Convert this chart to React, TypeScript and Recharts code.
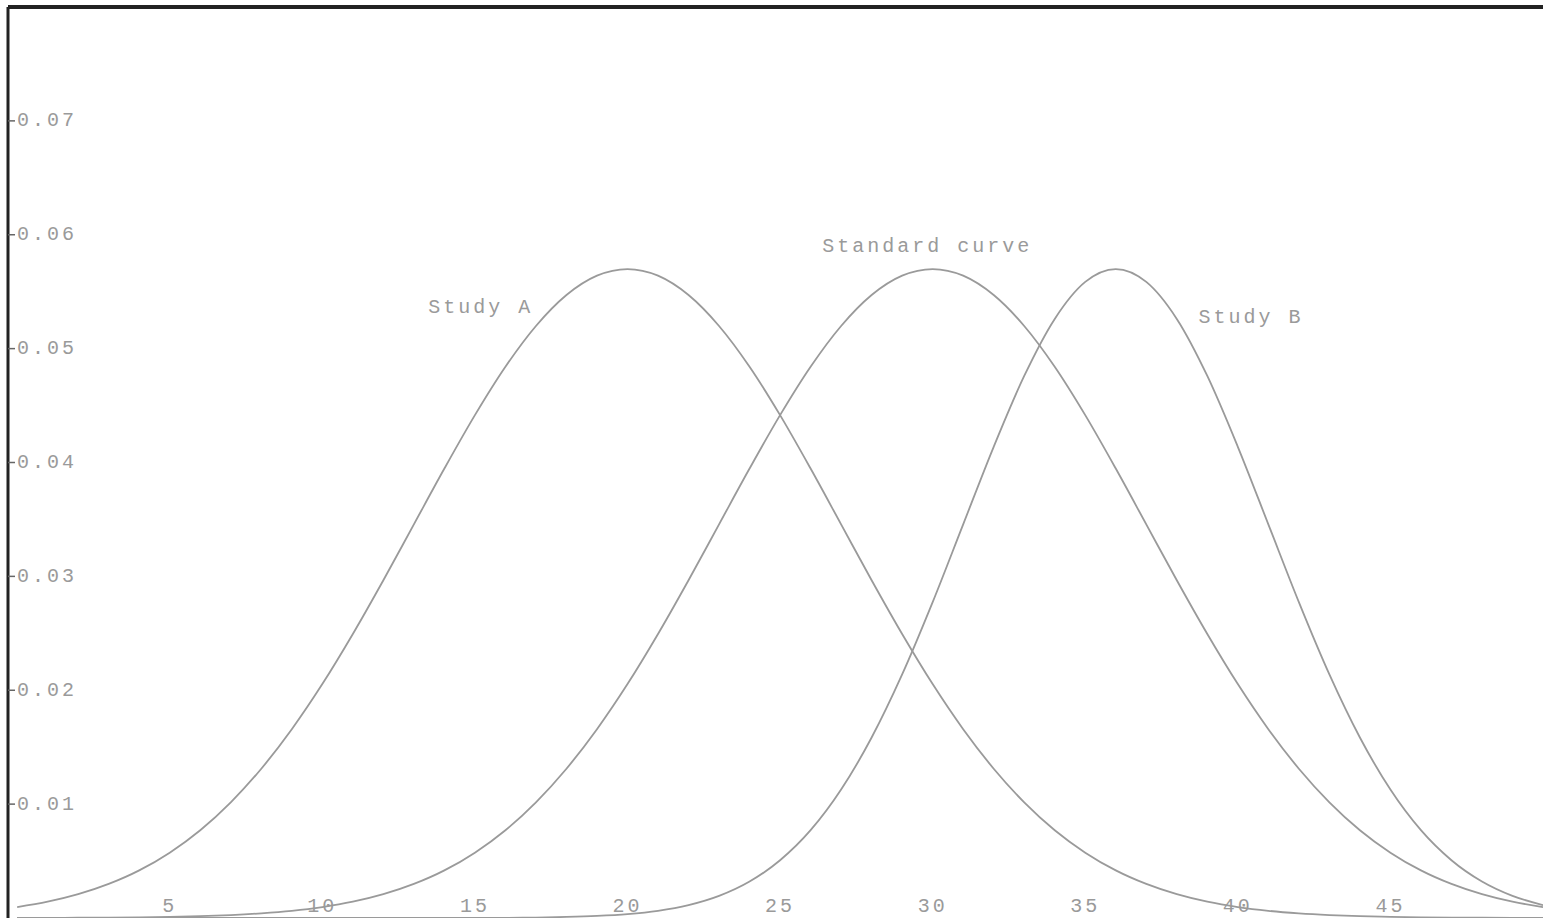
import { LineChart, Line, XAxis, YAxis, ReferenceLine, ReferenceDot } from "recharts";

const xs = [0, 1, 2, 3, 4, 5, 6, 7, 8, 9, 10, 11, 12, 13, 14, 15, 16, 17, 18, 19, 20, 21, 22, 23, 24, 25, 26, 27, 28, 29, 30, 31, 32, 33, 34, 35, 36, 37, 38, 39, 40, 41, 42, 43, 44, 45, 46, 47, 48, 49, 50];

const studyA = [0.00096, 0.00143, 0.00209, 0.00299, 0.00418, 0.00574, 0.00771, 0.01016, 0.01311, 0.01658, 0.02054, 0.02494, 0.02966, 0.03457, 0.03947, 0.04416, 0.04841, 0.05199, 0.05471, 0.05641, 0.05699, 0.05641, 0.05471, 0.05199, 0.04841, 0.04416, 0.03947, 0.03457, 0.02966, 0.02494, 0.02054, 0.01658, 0.01311, 0.01016, 0.00771, 0.00574, 0.00418, 0.00299, 0.00209, 0.00143, 0.00096, 0.00063, 0.00041, 0.00026, 0.00016, 0.0001, 0.00006, 0.00003, 0.00002, 0.00001, 0.00001];

const standard = [0.00001, 0.00001, 0.00002, 0.00003, 0.00006, 0.0001, 0.00016, 0.00026, 0.00041, 0.00063, 0.00096, 0.00143, 0.00209, 0.00299, 0.00418, 0.00574, 0.00771, 0.01016, 0.01311, 0.01658, 0.02054, 0.02494, 0.02966, 0.03457, 0.03947, 0.04416, 0.04841, 0.05199, 0.05471, 0.05641, 0.05699, 0.05641, 0.05471, 0.05199, 0.04841, 0.04416, 0.03947, 0.03457, 0.02966, 0.02494, 0.02054, 0.01658, 0.01311, 0.01016, 0.00771, 0.00574, 0.00418, 0.00299, 0.00209, 0.00143, 0.00096];

const studyB = [0, 0, 0, 0, 0, 0, 0, 0, 0, 0, 0, 0, 0, 0, 0, 0, 0.00001, 0.00004, 0.00009, 0.00018, 0.00034, 0.00063, 0.00113, 0.00194, 0.0032, 0.00507, 0.00771, 0.01128, 0.01585, 0.02139, 0.02774, 0.03457, 0.04138, 0.0476, 0.05261, 0.05586, 0.05699, 0.05586, 0.05261, 0.0476, 0.04138, 0.03457, 0.02774, 0.02139, 0.01585, 0.01128, 0.00771, 0.00507, 0.0032, 0.00194, 0.00113];

const xTicks = [5, 10, 15, 20, 25, 30, 35, 40, 45];
const yTicks = [0.01, 0.02, 0.03, 0.04, 0.05, 0.06, 0.07];

// curve captions, in data units
const captions = [
  { text: "Study A", x: 13.47, y: 0.05365 },
  { text: "Standard curve", x: 26.38, y: 0.059 },
  { text: "Study B", x: 38.71, y: 0.0527 },
];

const data = xs.map((x, i) => ({ x, a: studyA[i], std: standard[i], b: studyB[i] }));

const FONT = "'Liberation Mono', 'DejaVu Sans Mono', monospace";
const GREY = "#9a9a9a";
const PLOT_LEFT = 8;

function YTick(props: any) {
  const { y, payload } = props;
  return (
    <g>
      <line x1={PLOT_LEFT} x2={PLOT_LEFT + 7} y1={y} y2={y} stroke="#666" strokeWidth={1.5} />
      <text x={PLOT_LEFT + 9} y={y} dominantBaseline="central" fill={GREY} fontSize={20} fontFamily={FONT} letterSpacing={3}>
        {payload.value.toFixed(2)}
      </text>
    </g>
  );
}

function XTick(props: any) {
  const { x, payload } = props;
  return (
    <text x={x} y={912} textAnchor="middle" fill={GREY} fontSize={20} fontFamily={FONT} letterSpacing={3}>
      {payload.value}
    </text>
  );
}

const caption = (text: string) => (props: any) => {
  const { viewBox } = props;
  return (
    <text x={viewBox.x} y={viewBox.y} dominantBaseline="central" fill={GREY} fontSize={20} fontFamily={FONT} letterSpacing={3}>
      {text}
    </text>
  );
};

export default function App() {
  return (
    <div style={{ position: "absolute", left: 0, top: 0, width: 1543, height: 918, overflow: "hidden", background: "#fff" }}>
      <LineChart width={1543} height={918} data={data} margin={{ top: 7, right: 0, bottom: -1, left: PLOT_LEFT - 1 }}>
        <XAxis dataKey="x" type="number" domain={[-0.3, 50]} ticks={xTicks} height={1} axisLine={false} tickLine={false} tick={<XTick />} allowDataOverflow />
        <YAxis type="number" domain={[0, 0.08]} ticks={yTicks} width={1} axisLine={{ stroke: "#222", strokeWidth: 3 }} tickLine={false} tick={<YTick />} allowDataOverflow />
        <ReferenceLine y={0.08} stroke="#222" strokeWidth={4} />
        <Line type="monotone" dataKey="a" stroke={GREY} strokeWidth={1.8} dot={false} isAnimationActive={false} />
        <Line type="monotone" dataKey="std" stroke={GREY} strokeWidth={1.8} dot={false} isAnimationActive={false} />
        <Line type="monotone" dataKey="b" stroke={GREY} strokeWidth={1.8} dot={false} isAnimationActive={false} />
        {captions.map((c) => (
          <ReferenceDot key={c.text} x={c.x} y={c.y} r={0} fill="none" stroke="none" label={caption(c.text)} />
        ))}
      </LineChart>
    </div>
  );
}
